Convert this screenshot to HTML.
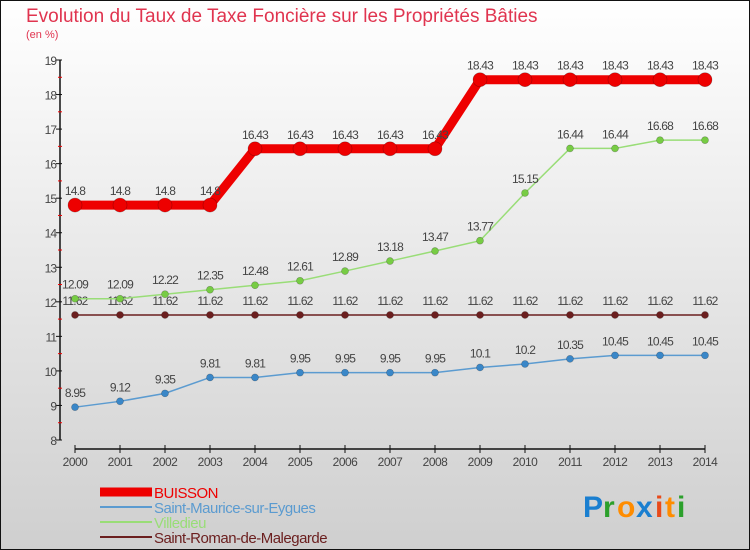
<!DOCTYPE html>
<html><head><meta charset="utf-8"><style>
body{margin:0;width:750px;height:550px;overflow:hidden;font-family:"Liberation Sans",sans-serif}
svg{display:block}
</style></head><body>
<svg id="c" width="750" height="550" xmlns="http://www.w3.org/2000/svg">
<defs><linearGradient id="bg" x1="0" y1="0" x2="0" y2="1"><stop offset="0" stop-color="#ffffff"/><stop offset="1" stop-color="#cfcfcf"/></linearGradient></defs>
<rect x="0.5" y="0.5" width="749" height="549" fill="url(#bg)" stroke="#111"/>
<text x="26" y="22" font-size="19" fill="#e0344f">Evolution du Taux de Taxe Foncière sur les Propriétés Bâties</text>
<text x="26" y="38" font-size="11" fill="#e0344f">(en %)</text>
<g id="axes"></g><g id="series"></g><g id="legend"></g>
<g font-size="30" font-weight="bold">
<text x="583" y="517" fill="#1a7fd0">P</text><text x="603" y="517" fill="#2ca02c">r</text><text x="617" y="517" fill="#ff8c00">o</text><text x="636" y="517" fill="#1a7fd0">x</text><text x="655" y="517" fill="#e84a1a">i</text><text x="665" y="517" fill="#ff8c00">t</text><text x="677" y="517" fill="#2ca02c">i</text>
</g>
</svg>
<script>
const years=[2000,2001,2002,2003,2004,2005,2006,2007,2008,2009,2010,2011,2012,2013,2014];
const buisson=[14.8,14.8,14.8,14.8,16.43,16.43,16.43,16.43,16.43,18.43,18.43,18.43,18.43,18.43,18.43];
const stMaurice=[8.95,9.12,9.35,9.81,9.81,9.95,9.95,9.95,9.95,10.1,10.2,10.35,10.45,10.45,10.45];
const villedieu=[12.09,12.09,12.22,12.35,12.48,12.61,12.89,13.18,13.47,13.77,15.15,16.44,16.44,16.68,16.68];
const stRoman=[11.62,11.62,11.62,11.62,11.62,11.62,11.62,11.62,11.62,11.62,11.62,11.62,11.62,11.62,11.62];
const yTicks=[8,9,10,11,12,13,14,15,16,17,18,19];
const seriesNames=["BUISSON","Saint-Maurice-sur-Eygues","Villedieu","Saint-Roman-de-Malegarde"];
const NS="http://www.w3.org/2000/svg";
const x=i=>75+i*45, y=v=>440-(v-8)*380/11;
function mk(tag,attrs,parent,txt){const e=document.createElementNS(NS,tag);for(const k in attrs)e.setAttribute(k,attrs[k]);if(txt!=null)e.textContent=txt;parent.appendChild(e);return e;}
const ax=document.getElementById('axes');
let yl=mk('line',{x1:60,y1:60,x2:60,y2:440,stroke:'#111','stroke-width':1.5},ax);


yTicks.forEach(t=>{
 mk('line',{x1:56,y1:y(t),x2:62,y2:y(t),stroke:'#111'},ax);
 if(t<19)mk('line',{x1:58,y1:y(t+0.5),x2:62,y2:y(t+0.5),stroke:'#e00'},ax);
 const tx=mk('text',{x:56,y:y(t)+5,'font-size':12,fill:'#444','text-anchor':'end','letter-spacing':'-1'},ax,String(t));
 
 
});
let xl=mk('line',{x1:75,y1:449,x2:705,y2:449,stroke:'#111','stroke-width':1.5},ax);


years.forEach((yr,i)=>{
 mk('line',{x1:x(i),y1:445,x2:x(i),y2:453,stroke:'#111'},ax);
 const tx=mk('text',{x:x(i),y:466,'font-size':12,fill:'#444','text-anchor':'middle','letter-spacing':'-0.5'},ax,String(yr));
 
 
});
const sg=document.getElementById('series');
function draw(vals,color,lw,r,dot,name){
 const g=mk('g',{},sg);
 
 
 mk('polyline',{points:vals.map((v,i)=>x(i)+','+y(v)).join(' '),fill:'none',stroke:color,'stroke-width':lw},g);
 vals.forEach((v,i)=>{
  const c=mk('circle',{cx:x(i),cy:y(v),r:r,fill:dot,stroke:'rgba(0,0,0,0.3)','stroke-width':0.6},g);
  
  
  const t=mk('text',{x:x(i),y:y(v)-10,'font-size':12,fill:'#444','text-anchor':'middle','letter-spacing':'-0.8'},g,String(v));
  
  
 });
}
draw(stRoman,'#6b1f1f',1.5,3.5,'#6b1f1f','series-saint-roman');
draw(stMaurice,'#5b9bd0',1.5,3.5,'#3a87c8','series-saint-maurice');
draw(villedieu,'#99dd77',1.5,3.5,'#77cc44','series-villedieu');
draw(buisson,'#ee0000',9,7,'#ee0000','series-buisson');
const lg=document.getElementById('legend');
const lc=['#ee0000','#5b9bd0','#99dd77','#6b1f1f'],lw=[9,2,2,2];
seriesNames.forEach((n,i)=>{
 const yy=492+i*15;
 const g=mk('g',{},lg);
 
 
 mk('line',{x1:100,y1:yy,x2:152,y2:yy,stroke:lc[i],'stroke-width':lw[i]},g);
 mk('text',{x:154,y:yy+6,'font-size':15,fill:lc[i],'letter-spacing':'-0.5'},g,n);
});
</script>
</body></html>
